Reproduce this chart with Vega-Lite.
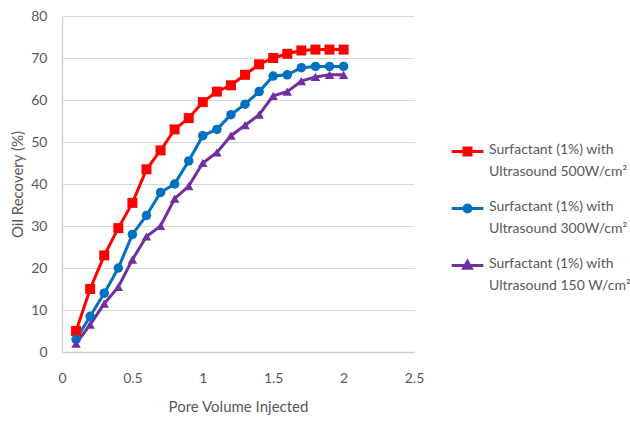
{
  "$schema": "https://vega.github.io/schema/vega-lite/v6.json",
  "width": 352,
  "height": 336,
  "autosize": "none",
  "padding": {"left": 62, "top": 16, "right": 216, "bottom": 69},
  "background": "white",
  "config": {
    "font": "Lato",
    "view": {"stroke": null},
    "axis": {
      "labelFont": "Lato", "titleFont": "Lato", "labelColor": "#595959", "titleColor": "#595959",
      "labelFontSize": 14, "titleFontSize": 15, "titleFontWeight": "normal",
      "gridColor": "#d9d9d9", "gridWidth": 1.2, "domainColor": "#d0d0d0", "domainWidth": 1.5, "ticks": false
    }
  },
  "data": {
    "values": [
      {"pv": 0.1, "rec": 5, "s": "A"}, {"pv": 0.2, "rec": 15, "s": "A"}, {"pv": 0.3, "rec": 23, "s": "A"}, {"pv": 0.4, "rec": 29.5, "s": "A"}, {"pv": 0.5, "rec": 35.5, "s": "A"},
      {"pv": 0.6, "rec": 43.5, "s": "A"}, {"pv": 0.7, "rec": 48, "s": "A"}, {"pv": 0.8, "rec": 53, "s": "A"}, {"pv": 0.9, "rec": 55.7, "s": "A"}, {"pv": 1.0, "rec": 59.5, "s": "A"},
      {"pv": 1.1, "rec": 62, "s": "A"}, {"pv": 1.2, "rec": 63.5, "s": "A"}, {"pv": 1.3, "rec": 66, "s": "A"}, {"pv": 1.4, "rec": 68.5, "s": "A"}, {"pv": 1.5, "rec": 70, "s": "A"},
      {"pv": 1.6, "rec": 71, "s": "A"}, {"pv": 1.7, "rec": 71.8, "s": "A"}, {"pv": 1.8, "rec": 72, "s": "A"}, {"pv": 1.9, "rec": 72, "s": "A"}, {"pv": 2.0, "rec": 72, "s": "A"},
      {"pv": 0.1, "rec": 3, "s": "B"}, {"pv": 0.2, "rec": 8.5, "s": "B"}, {"pv": 0.3, "rec": 14, "s": "B"}, {"pv": 0.4, "rec": 20, "s": "B"}, {"pv": 0.5, "rec": 28, "s": "B"},
      {"pv": 0.6, "rec": 32.5, "s": "B"}, {"pv": 0.7, "rec": 38, "s": "B"}, {"pv": 0.8, "rec": 40, "s": "B"}, {"pv": 0.9, "rec": 45.5, "s": "B"}, {"pv": 1.0, "rec": 51.5, "s": "B"},
      {"pv": 1.1, "rec": 53, "s": "B"}, {"pv": 1.2, "rec": 56.5, "s": "B"}, {"pv": 1.3, "rec": 59, "s": "B"}, {"pv": 1.4, "rec": 62, "s": "B"}, {"pv": 1.5, "rec": 65.7, "s": "B"},
      {"pv": 1.6, "rec": 66, "s": "B"}, {"pv": 1.7, "rec": 67.7, "s": "B"}, {"pv": 1.8, "rec": 68, "s": "B"}, {"pv": 1.9, "rec": 68, "s": "B"}, {"pv": 2.0, "rec": 68, "s": "B"},
      {"pv": 0.1, "rec": 2, "s": "C"}, {"pv": 0.2, "rec": 6.5, "s": "C"}, {"pv": 0.3, "rec": 11.5, "s": "C"}, {"pv": 0.4, "rec": 15.5, "s": "C"}, {"pv": 0.5, "rec": 22, "s": "C"},
      {"pv": 0.6, "rec": 27.5, "s": "C"}, {"pv": 0.7, "rec": 30, "s": "C"}, {"pv": 0.8, "rec": 36.5, "s": "C"}, {"pv": 0.9, "rec": 39.5, "s": "C"}, {"pv": 1.0, "rec": 45, "s": "C"},
      {"pv": 1.1, "rec": 47.5, "s": "C"}, {"pv": 1.2, "rec": 51.5, "s": "C"}, {"pv": 1.3, "rec": 54, "s": "C"}, {"pv": 1.4, "rec": 56.5, "s": "C"}, {"pv": 1.5, "rec": 61, "s": "C"},
      {"pv": 1.6, "rec": 62, "s": "C"}, {"pv": 1.7, "rec": 64.5, "s": "C"}, {"pv": 1.8, "rec": 65.5, "s": "C"}, {"pv": 1.9, "rec": 66, "s": "C"}, {"pv": 2.0, "rec": 66, "s": "C"}
    ]
  },
  "encoding": {
    "x": {"field": "pv", "type": "quantitative", "title": "Pore Volume Injected",
      "scale": {"domain": [0, 2.5], "nice": false},
      "axis": {"values": [0, 0.5, 1, 1.5, 2, 2.5], "format": "~g", "labelFlush": false, "grid": false, "labelPadding": 19, "titlePadding": 14}},
    "y": {"field": "rec", "type": "quantitative", "title": "Oil Recovery (%)",
      "scale": {"domain": [0, 80], "nice": false},
      "axis": {"values": [0, 10, 20, 30, 40, 50, 60, 70, 80], "labelPadding": 15, "titlePadding": 5}},
    "color": {"field": "s", "type": "nominal",
      "scale": {"domain": ["A", "B", "C"], "range": ["#ff0000", "#0070c0", "#7030a0"]},
      "legend": {
        "title": null, "orient": "none", "legendX": 388, "legendY": 118, "symbolType": "stroke",
        "labelExpr": "datum.value == 'A' ? ['Surfactant (1%) with', 'Ultrasound 500W/cm²'] : datum.value == 'B' ? ['Surfactant (1%) with', 'Ultrasound 300W/cm²'] : ['Surfactant (1%) with', 'Ultrasound 150 W/cm²']",
        "labelFont": "Lato", "labelFontSize": 14, "labelColor": "#595959", "labelLimit": 300, "labelBaseline": "top",
        "labelOffset": 4, "rowPadding": 12, "symbolSize": 1000, "symbolStrokeWidth": 3,
        "encode": {
          "labels": {"update": {"lineHeight": {"value": 22}, "dy": {"value": -9}}},
          "symbols": {
            "update": {
              "shape": {"signal": "datum.value == 'A' ? 'M-1,0H1M-0.22,-0.22H0.22V0.22H-0.22Z' : datum.value == 'B' ? 'M-1,0H1M-0.22,0A0.22,0.22,0,1,1,0.22,0A0.22,0.22,0,1,1,-0.22,0Z' : 'M-1,0H1M0,-0.26L0.24,0.18L-0.24,0.18Z'"},
              "fill": {"signal": "scale('color', datum.value)"},
              "stroke": {"signal": "scale('color', datum.value)"},
              "strokeWidth": {"value": 3},
              "fillOpacity": {"value": 1},
              "strokeOpacity": {"value": 1}
            }
          }
        }
      }}
  },
  "layer": [
    {"mark": {"type": "line", "strokeWidth": 3}},
    {"transform": [{"filter": "datum.s == 'A'"}], "mark": {"type": "point", "shape": "square", "filled": true, "opacity": 1, "size": 100}},
    {"transform": [{"filter": "datum.s == 'B'"}], "mark": {"type": "point", "shape": "circle", "filled": true, "opacity": 1, "size": 90}},
    {"transform": [{"filter": "datum.s == 'C'"}], "mark": {"type": "point", "shape": "triangle-up", "filled": true, "opacity": 1, "size": 90}}
  ]
}
